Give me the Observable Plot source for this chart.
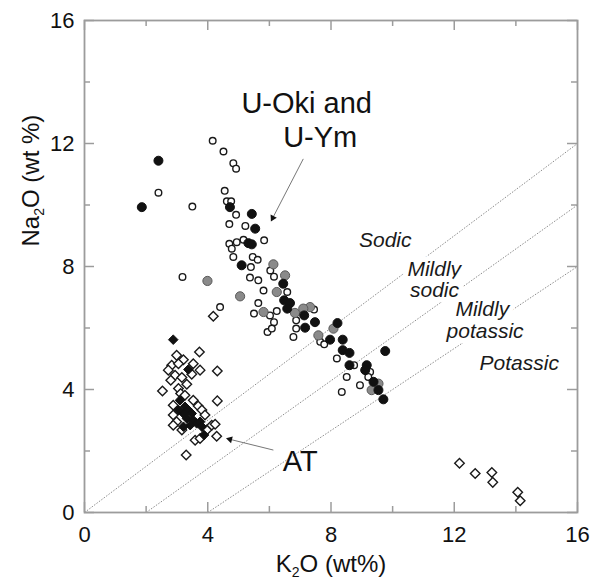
<!DOCTYPE html>
<html><head><meta charset="utf-8">
<script src="https://cdn.jsdelivr.net/npm/d3@7"></script>
<script src="https://cdn.jsdelivr.net/npm/@observablehq/plot@0.6"></script>
<style>
body{margin:0;background:#fff;}
</style></head><body><div id="chart"></div>
<script>
// [K2O, Na2O] wt%
const openCircles = [[4.16,12.09],[4.51,11.74],[4.83,11.36],[4.92,11.18],[2.40,10.40],[3.50,9.95],[4.55,10.46],[4.62,10.12],[4.76,10.12],[4.92,9.68],[4.70,9.38],[5.22,9.32],[5.83,8.85],[4.94,8.79],[5.16,8.87],[4.70,8.74],[4.78,8.58],[4.83,8.31],[5.46,8.31],[5.62,8.22],[5.40,7.98],[3.18,7.66],[5.37,7.64],[5.64,7.55],[5.81,7.22],[5.64,6.81],[5.50,6.47],[4.40,6.68],[6.03,7.87],[6.15,7.67],[6.24,6.55],[6.02,6.41],[6.15,6.19],[5.94,5.87],[6.08,5.98],[6.87,6.25],[6.87,5.98],[6.78,5.71],[7.45,6.60],[6.58,7.17],[7.65,5.55],[7.78,5.47],[8.19,5.01],[8.75,4.79],[9.27,4.57],[9.21,4.41],[8.51,4.41],[8.94,4.14],[8.35,3.92]];
const grayCircles = [[3.99,7.53],[5.05,7.03],[6.13,8.07],[6.51,7.71],[6.24,7.17],[5.81,6.52],[6.83,6.49],[7.32,6.68],[7.10,6.63],[8.08,5.98],[7.59,5.76],[9.32,3.98],[9.54,4.19]];
const blackCircles = [[2.40,11.44],[1.86,9.93],[4.72,9.93],[5.43,9.71],[5.54,9.23],[5.32,8.76],[5.43,8.72],[5.10,8.04],[6.45,7.44],[6.48,6.90],[6.67,6.81],[6.58,6.63],[7.13,6.41],[7.48,6.19],[7.16,6.01],[8.21,6.16],[7.97,5.62],[8.38,5.62],[8.38,5.28],[8.60,5.19],[9.76,5.25],[8.60,4.79],[9.16,4.79],[9.11,4.63],[9.38,4.25],[9.54,3.98],[9.70,3.68]];
const openDiamonds = [[4.18,6.38],[3.73,5.22],[2.99,5.11],[3.21,4.97],[2.83,4.79],[3.05,4.84],[2.72,4.63],[3.53,4.84],[3.75,4.63],[3.48,4.50],[4.31,4.60],[2.94,4.46],[3.16,4.39],[2.80,4.30],[3.32,4.17],[3.05,4.03],[2.53,3.95],[3.12,3.87],[3.26,3.81],[4.31,3.63],[3.53,3.65],[3.69,3.46],[2.88,3.49],[3.81,3.33],[3.91,3.17],[2.88,3.17],[2.99,2.95],[2.88,2.84],[3.16,2.68],[4.13,2.84],[3.97,2.68],[4.24,2.87],[3.59,2.35],[3.75,2.41],[4.29,2.48],[3.30,1.87],[12.17,1.60],[12.68,1.27],[13.22,1.30],[13.25,0.98],[14.06,0.66],[14.14,0.38]];
const blackDiamonds = [[2.88,5.62],[3.37,4.65],[3.10,3.65],[3.26,3.44],[3.37,3.33],[3.21,3.22],[3.48,3.22],[3.32,3.06],[3.53,3.00],[3.64,2.90],[3.75,2.95],[3.43,2.84],[3.81,2.79],[3.88,2.52],[3.21,2.79],[3.05,3.33]];

// classification boundaries
const boundaries = [{x1:0,y1:0,x2:16,y2:12},{x1:2,y1:0,x2:16,y2:10},{x1:4,y1:0,x2:16,y2:8}];
const fieldLabels = [
  {x:9.76,y:8.63,label:"Sodic"},
  {x:11.35,y:7.68,label:"Mildly"},{x:11.36,y:7.00,label:"sodic"},
  {x:12.91,y:6.38,label:"Mildly"},{x:13.0,y:5.67,label:"potassic"},
  {x:14.11,y:4.63,label:"Potassic"}
];
const annotations = [
  {x:7.21,y:13.0,label:"U-Oki and"},
  {x:7.65,y:11.9,label:"U-Ym"},
  {x:7.0,y:1.35,label:"AT"}
];
const arrows = [
  {x1:7.10,y1:11.50,x2:6.11,y2:9.58},
  {x1:6.13,y1:2.03,x2:4.72,y2:2.38}
];
const majorTicks = [0,4,8,12,16];
const minorTicks = [2,6,10,14];
const xTitle = "K_2O (wt%)";
const yTitle = "Na_2O (wt %)";

const F = "'Liberation Sans', Arial, Helvetica, sans-serif";
const frameColor = "#9c9c9c";
const px = d => d[0], py = d => d[1];

const plot = Plot.plot({
  width: 594, height: 581,
  marginLeft: 84, marginRight: 17, marginTop: 20, marginBottom: 69,
  x: {domain: [0,16], label: null},
  y: {domain: [0,16], label: null},
  style: {fontFamily: F, background: "white", color: "#111"},
  marks: [
    Plot.link(boundaries, {x1:"x1", y1:"y1", x2:"x2", y2:"y2", stroke:"#8c8c8c", strokeWidth:1, strokeDasharray:"1.5,1.5"}),
    Plot.text(fieldLabels, {x:"x", y:"y", text:"label", fontSize:21, fontStyle:"italic", lineAnchor:"bottom", fill:"#1a1a1a", stroke:"white", strokeWidth:10, paintOrder:"stroke", strokeLinejoin:"round"}),
    // frame and inward ticks
    Plot.frame({stroke: frameColor, strokeWidth: 1.8}),
    Plot.tickX(majorTicks, {x: d=>d, insetTop: 482, stroke: frameColor, strokeWidth: 1.5}),
    Plot.tickX(majorTicks, {x: d=>d, insetBottom: 482, stroke: frameColor, strokeWidth: 1.5}),
    Plot.tickX(minorTicks, {x: d=>d, insetTop: 486, stroke: frameColor, strokeWidth: 1.5}),
    Plot.tickX(minorTicks, {x: d=>d, insetBottom: 486, stroke: frameColor, strokeWidth: 1.5}),
    Plot.tickY(majorTicks, {y: d=>d, insetRight: 483, stroke: frameColor, strokeWidth: 1.5}),
    Plot.tickY(majorTicks, {y: d=>d, insetLeft: 483, stroke: frameColor, strokeWidth: 1.5}),
    Plot.tickY(minorTicks, {y: d=>d, insetRight: 487, stroke: frameColor, strokeWidth: 1.5}),
    Plot.tickY(minorTicks, {y: d=>d, insetLeft: 487, stroke: frameColor, strokeWidth: 1.5}),
    Plot.axisX({ticks: majorTicks, tickSize: 0, tickPadding: 14, fontSize: 22, label: null}),
    Plot.axisY({ticks: majorTicks, tickSize: 0, tickPadding: 10, fontSize: 22, label: null}),
    Plot.text([xTitle], {frameAnchor: "bottom", dy: 59, lineAnchor: "bottom", fontSize: 24, fill: "#111"}),
    Plot.text([yTitle], {frameAnchor: "left", rotate: -90, dx: -46, dy: -20, lineAnchor: "bottom", fontSize: 24, fill: "#111"}),
    // data
    Plot.dot(openCircles, {x: px, y: py, r: 3.3, stroke: "#1a1a1a", strokeWidth: 1.4, fill: "white"}),
    Plot.dot(grayCircles, {x: px, y: py, r: 4.6, fill: "#8a8a8a", stroke: "#5a5a5a", strokeWidth: 1}),
    Plot.dot(blackCircles, {x: px, y: py, r: 4.5, fill: "#111", stroke: "#111", strokeWidth: 1}),
    Plot.dot(openDiamonds, {x: px, y: py, symbol: "diamond2", r: 4.3, stroke: "#1a1a1a", strokeWidth: 1.4, fill: "white"}),
    Plot.dot(blackDiamonds, {x: px, y: py, symbol: "diamond2", r: 4.3, fill: "#111", stroke: "#111", strokeWidth: 1}),
    // annotations
    Plot.link(arrows, {x1:"x1", y1:"y1", x2:"x2", y2:"y2", stroke:"#777", strokeWidth:1}),
    Plot.dot(arrows, {x:"x2", y:"y2", symbol:"triangle", r:2.6, fill:"#111", stroke:"none",
      rotate: d => Math.atan2(-(d.y2-d.y1), d.x2-d.x1)*180/Math.PI + 90}),
    Plot.text(annotations, {x:"x", y:"y", text:"label", fontSize: 29, lineAnchor:"bottom", fill:"#111"})
  ]
});

// subscripts
d3.select(plot).selectAll("text").each(function(){
  const t = this.textContent;
  const m = t.match(/^(.*)_(\d)(.*)$/);
  if (!m) return;
  const sel = d3.select(this);
  sel.text(null);
  sel.append("tspan").text(m[1]);
  sel.append("tspan").attr("font-size", "14px").attr("dy", "5").text(m[2]);
  sel.append("tspan").attr("dy", "-5").text(m[3]);
});

document.getElementById("chart").appendChild(plot);
</script>
</body></html>
